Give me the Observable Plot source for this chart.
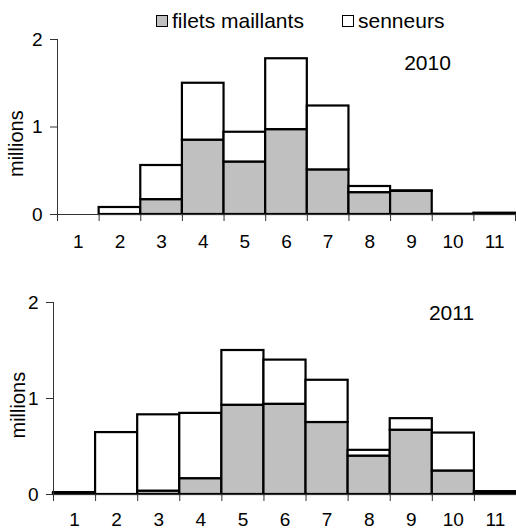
<!DOCTYPE html>
<html>
<head>
<meta charset="utf-8">
<script src="https://cdn.jsdelivr.net/npm/d3@7"></script>
<script src="https://cdn.jsdelivr.net/npm/@observablehq/plot@0.6"></script>
<style>
  body { margin: 0; background: #fff; font-family: "Liberation Sans", Arial, sans-serif; }
  #legend { position: relative; height: 30px; width: 516px; font-size: 21px; color: #000; }
  #legend .item { position: absolute; top: 9px; display: flex; align-items: center; white-space: nowrap; line-height: 24px; }
  #legend .sw { width: 10px; height: 10px; border: 1.5px solid #000; margin-right: 4px; }
  svg { display: block; }
</style>
</head>
<body>
<div id="legend"></div>
<div id="charts"></div>
<script>
const ages = [1, 2, 3, 4, 5, 6, 7, 8, 9, 10, 11];
const gears = ["filets maillants", "senneurs"];
const gearColors = ["#c0c0c0", "#ffffff"];
const years = ["2010", "2011"];
const yTicks = [0, 1, 2];

// millions of fish per age
const filets2010   = [0, 0, 0.17, 0.85, 0.60, 0.97, 0.51, 0.25, 0.265, 0, 0];
const senneurs2010 = [0, 0.08, 0.39, 0.65, 0.34, 0.81, 0.73, 0.07, 0.005, 0.003, 0.015];
const filets2011   = [0.01, 0, 0.035, 0.165, 0.93, 0.94, 0.75, 0.40, 0.67, 0.245, 0.01];
const senneurs2011 = [0.01, 0.645, 0.795, 0.68, 0.57, 0.46, 0.44, 0.06, 0.12, 0.395, 0.02];

// legend
const legend = document.getElementById("legend");
const legendX = [156, 342];
gears.forEach((g, i) => {
  const item = document.createElement("div");
  item.className = "item";
  item.style.left = legendX[i] + "px";
  const sw = document.createElement("span");
  sw.className = "sw";
  sw.style.background = gearColors[i];
  const t = document.createElement("span");
  t.textContent = g;
  item.append(sw, t);
  legend.append(item);
});

const font = "'Liberation Sans', Arial, sans-serif";

function rows(filets, senneurs) {
  const out = [];
  ages.forEach((a, i) => {
    if (filets[i] > 0) out.push({age: a, gear: gears[0], y1: 0, y2: filets[i]});
    if (senneurs[i] > 0) out.push({age: a, gear: gears[1], y1: filets[i], y2: filets[i] + senneurs[i]});
  });
  return out;
}

function panel(opts) {
  const data = rows(opts.filets, opts.senneurs);
  const edges = [0.5, ...ages.map(a => a + 0.5)];
  return Plot.plot({
    width: 516,
    height: opts.height,
    marginTop: opts.marginTop,
    marginBottom: opts.marginBottom,
    marginLeft: opts.marginLeft,
    marginRight: opts.marginRight,
    style: {fontFamily: font, fontSize: "19px", color: "#000", background: "#fff", overflow: "visible"},
    x: {domain: [0.5, 11.5]},
    y: {domain: [0, 2]},
    color: {domain: gears, range: gearColors},
    marks: [
      Plot.rect(data, {
        x1: d => d.age - 0.5, x2: d => d.age + 0.5,
        y1: "y1", y2: "y2",
        fill: "gear", stroke: "#000", strokeWidth: 2.2
      }),
      Plot.ruleY([0], {stroke: "#333", strokeWidth: 1}),
      Plot.ruleX([0.5], {y1: 0, y2: 2, stroke: "#333", strokeWidth: 1}),
      Plot.axisY(yTicks, {tickSize: 7, tickPadding: 8, fontSize: 19, stroke: "#333", label: null, tickFormat: d3.format("d")}),
      Plot.axisX(edges, {tickSize: 7, tickFormat: () => "", stroke: "#333", label: null}),
      Plot.axisX(ages, {tickSize: 0, tickPadding: opts.labelPad, fontSize: 19, label: null, tickFormat: d3.format("d")}),
      Plot.text(["millions"], {frameAnchor: "left", rotate: -90, dx: opts.unitDx, dy: opts.unitDy, fontSize: 20}),
      Plot.text([opts.year], {frameAnchor: "top-right", textAnchor: "middle", lineAnchor: "middle", dx: opts.yearDx, dy: opts.yearDy, fontSize: 21})
    ]
  });
}

const charts = document.getElementById("charts");
charts.append(panel({
  year: years[0], filets: filets2010, senneurs: senneurs2010,
  height: 230, marginTop: 9, marginBottom: 46, marginLeft: 57, marginRight: 1,
  labelPad: 20, unitDx: -41, unitDy: 50, yearDx: -88, yearDy: 24
}));
charts.append(panel({
  year: years[1], filets: filets2011, senneurs: senneurs2011,
  height: 272, marginTop: 42, marginBottom: 38, marginLeft: 53, marginRight: 0,
  labelPad: 18, unitDx: -35, unitDy: 40, yearDx: -65, yearDy: 11
}));
</script>
</body>
</html>
